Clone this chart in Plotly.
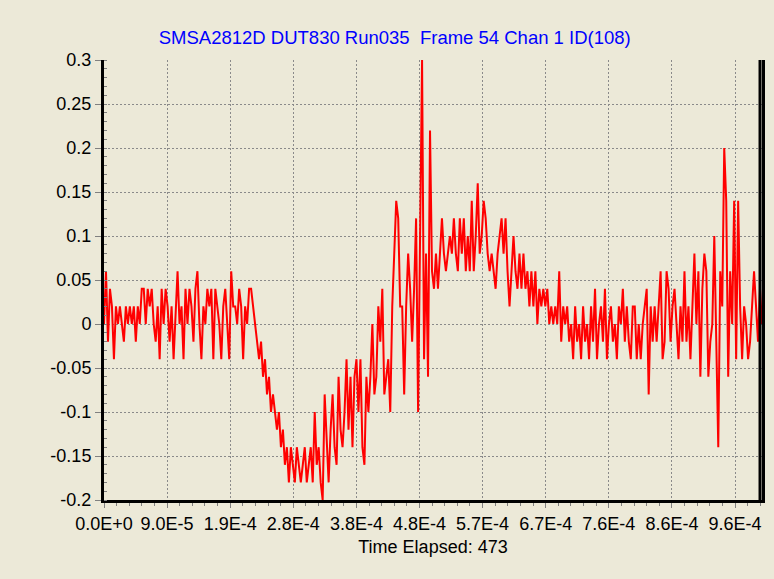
import plotly.graph_objects as go

# ---- data (quantised ~0.02) ----
sample_interval = 1.0e-3 / 331  # seconds per sample

baseline_pre = [0.0, 0.06, -0.02, 0.04, 0.02, -0.04, 0.02, 0.0, 0.02, 0.0, -0.02, 0.02, 0.0, 0.02, 0.0, 0.02, -0.02, 0.02, 0.0, 0.04,
                0.04, 0.0, 0.04, 0.02, 0.04, 0.0, -0.02, 0.02, -0.04, 0.04, 0.0, 0.04, 0.02, -0.02, 0.02, -0.04, 0.02, 0.06, 0.0, 0.02,
                -0.04, 0.04, 0.0, 0.04, 0.02, -0.02, 0.04, 0.06, 0.0, -0.04, 0.02, 0.0, 0.04, 0.02, 0.04, -0.04, 0.04, 0.02, 0.0, -0.04,
                0.02, 0.04, 0.0, -0.04, 0.06, 0.02, 0.02, 0.0, 0.04, 0.02, -0.04, 0.02, 0.0, 0.04, 0.04, 0.02, 0.0, -0.02, -0.04, -0.02]
trough = [-0.06, -0.04, -0.08, -0.06, -0.1, -0.08, -0.1, -0.12, -0.1, -0.14, -0.12, -0.16, -0.14, -0.18, -0.14, -0.16, -0.18, -0.14, -0.16, -0.18,
          -0.16, -0.14, -0.18, -0.16, -0.14, -0.18, -0.1, -0.16, -0.14, -0.18, -0.2, -0.08, -0.14, -0.18, -0.12, -0.08, -0.14, -0.16, -0.06, -0.12]
rise = [-0.14, -0.1, -0.04, -0.12, -0.06, -0.14, -0.06, -0.04, -0.1, -0.04, -0.14, -0.16, -0.06, -0.1, -0.06, 0.0, -0.08, -0.06, 0.02, -0.02,
        0.04, -0.08, -0.06, -0.04, -0.1, 0.02, 0.08, 0.14, 0.12, 0.02, 0.02, -0.08, 0.02, 0.08, 0.04, -0.02, 0.04, 0.12, -0.1, 0.12]
peak = [0.3, -0.04, 0.08, -0.06, 0.22, 0.06, 0.04, 0.08, 0.04, 0.08, 0.12, 0.08, 0.06, 0.08, 0.1, 0.08, 0.12, 0.08, 0.06, 0.12,
        0.08, 0.12, 0.06, 0.1, 0.06, 0.14, 0.06, 0.1, 0.16, 0.08, 0.1, 0.14, 0.12, 0.08, 0.06, 0.08, 0.06, 0.04, 0.08, 0.1]
decay = [0.12, 0.08, 0.12, 0.06, 0.02, 0.06, 0.1, 0.06, 0.04, 0.08, 0.04, 0.08, 0.04, 0.06, 0.02, 0.06, 0.02, 0.06, 0.0, 0.04,
         0.02, 0.04, 0.02, 0.04, 0.0, 0.02, 0.0, 0.02, 0.0, 0.06, -0.02, 0.02, 0.0, 0.02, -0.02, 0.0, -0.04, 0.02, -0.02, 0.0]
baseline_post = [-0.04, 0.02, -0.02, 0.0, -0.04, 0.02, -0.02, 0.04, -0.04, 0.0, 0.02, -0.02, 0.04, -0.04, 0.0, 0.02, -0.02, 0.0, -0.04, 0.02,
                 0.0, 0.04, -0.02, 0.02, -0.02, -0.04, 0.02, 0.02, -0.04, 0.0, -0.04, 0.0, 0.02, 0.04, -0.08, 0.02, -0.02, 0.02, -0.02, 0.02,
                 0.06, -0.04, -0.02, 0.06, 0.04, -0.02, 0.02, 0.04, 0.0, -0.04, 0.02, -0.02, 0.06, -0.02, 0.02, -0.04, 0.02, 0.08, 0.0, 0.06,
                 -0.06, 0.04, 0.08, 0.06, -0.06, -0.02, 0.0, 0.1, -0.02, -0.14, 0.06, 0.02, 0.2, 0.14, -0.06, 0.06, 0.0, 0.14, -0.04, 0.14,
                 0.02, -0.04, 0.02, 0.0, -0.04, -0.02, 0.02, 0.06, 0.02, -0.02, 0.04, 0.0]

x_tick_vals = [k * 9.59e-5 for k in range(11)]
x_tick_text = ["0.0E+0", "9.0E-5", "1.9E-4", "2.8E-4", "3.8E-4", "4.8E-4",
               "5.7E-4", "6.7E-4", "7.6E-4", "8.6E-4", "9.6E-4"]
y_tick_vals = [0.3, 0.25, 0.2, 0.15, 0.1, 0.05, 0.0, -0.05, -0.1, -0.15, -0.2]
y_tick_text = ["0.3", "0.25", "0.2", "0.15", "0.1", "0.05", "0", "-0.05", "-0.1", "-0.15", "-0.2"]

title_text = "SMSA2812D DUT830 Run035  Frame 54 Chan 1 ID(108)"
x_title = "Time Elapsed: 473"

signal = baseline_pre + trough + rise + peak + decay + baseline_post
time = [i * sample_interval for i in range(len(signal))]

bg = "#ECE9D8"
font_family = "Liberation Sans, Arial, sans-serif"
grid_color = "#8a8a8a"
grid_dash = "2px,2px"

fig = go.Figure()
fig.add_trace(go.Scatter(x=time, y=signal, mode="lines",
                         line=dict(color="#ff0000", width=2), showlegend=False,
                         hoverinfo="skip"))

fig.update_layout(
    width=774, height=579,
    paper_bgcolor=bg, plot_bgcolor=bg,
    margin=dict(l=104, r=9, t=60, b=79),
    font=dict(family=font_family, size=18, color="#000000"),
    title=dict(text=title_text, x=0.51, xanchor="center", y=1 - 38 / 579, yanchor="middle",
               font=dict(family=font_family, size=18.5, color="#0000ff")),
)

fig.update_xaxes(
    range=[0, 1.0e-3],
    tickmode="array", tickvals=x_tick_vals, ticktext=x_tick_text,
    showgrid=True, gridcolor=grid_color, griddash=grid_dash, gridwidth=1,
    showline=True, linecolor="#000000", linewidth=3, mirror=False,
    ticks="outside", ticklen=5, tickcolor="#808080", tickwidth=1,
    minor=dict(ticks="outside", ticklen=3, tickcolor="#808080", tickmode="linear",
               tick0=0, dtick=9.59e-5 / 5, showgrid=False),
    zeroline=False,
    tickfont=dict(size=18),
    title=dict(text=x_title, standoff=8, font=dict(size=18)),
)
fig.update_yaxes(
    range=[-0.2, 0.3],
    tickmode="array", tickvals=y_tick_vals, ticktext=y_tick_text,
    showgrid=True, gridcolor=grid_color, griddash=grid_dash, gridwidth=1,
    showline=True, linecolor="#000000", linewidth=3, mirror=True,
    ticks="outside", ticklen=6, tickcolor="#808080", tickwidth=1,
    minor=dict(ticks="inside", ticklen=3, tickcolor="#808080", tickmode="linear",
               tick0=0, dtick=0.01, showgrid=False),
    zeroline=False,
    tickfont=dict(size=18),
)

# right-hand frame edge
fig.add_shape(type="line", xref="paper", yref="paper", x0=0.997, x1=0.997, y0=0, y1=1,
              line=dict(color="#000000", width=3), layer="above")

fig.write_html(
    "out.html",
    config={"displayModeBar": False},
    post_script=(
        "document.body.style.margin='0';"
        "document.body.style.background='#ECE9D8';"
        "document.body.style.overflow='hidden';"
        "document.documentElement.style.overflow='hidden';"
    ),
)
